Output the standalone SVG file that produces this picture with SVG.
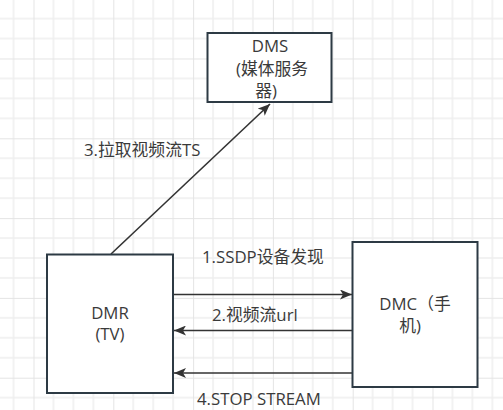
<svg xmlns="http://www.w3.org/2000/svg" width="503" height="410" viewBox="0 0 503 410">
<style>
.box{fill:#fff;stroke:#2d3a44;stroke-width:2}
.edge{stroke:#333;stroke-width:1.6;fill:none}
text{font-family:"Open Sans","Noto Sans CJK SC",sans-serif;font-size:16.8px;fill:#3a3a3a}
.c{text-anchor:middle}
</style>
<defs>
<pattern id="grid" patternUnits="userSpaceOnUse" x="33.5" y="58.5" width="79.8" height="79.8">
<path d="M19.95 0V79.8M39.9 0V79.8M59.85 0V79.8M0 19.95H79.8M0 39.9H79.8M0 59.85H79.8" stroke="#eeeeee" stroke-width="1.5" fill="none"/>
<path d="M0 0V79.8M0 0H79.8" stroke="#e4e4e4" stroke-width="2" fill="none"/>
</pattern>
<marker id="ah" viewBox="0 0 12 10" refX="12" refY="5" markerWidth="12" markerHeight="10" markerUnits="userSpaceOnUse" orient="auto">
<path d="M0 0L12 5L0 10L3 5Z" fill="#333"/>
</marker>
</defs>
<rect width="503" height="410" fill="#fff"/>
<rect width="503" height="410" fill="url(#grid)"/>
<g id="connectors">
<path class="edge" d="M111 254L270 104" marker-end="url(#ah)"/>
<path class="edge" d="M173 294.5H352" marker-end="url(#ah)"/>
<path class="edge" d="M352 330.5H174" marker-end="url(#ah)"/>
<path class="edge" d="M352 373H174" marker-end="url(#ah)"/>
<text x="84" y="156">3.拉取视频流TS</text>
<text x="202" y="263">1.SSDP设备发现</text>
<text x="212" y="321">2.视频流url</text>
<text x="197" y="405">4.STOP STREAM</text>
</g>
<g id="dms">
<rect class="box" x="207.5" y="33" width="124" height="69"/>
<text class="c" x="270" y="52">DMS</text>
<text class="c" x="272" y="75">(媒体服务</text>
<text class="c" x="266" y="97">器)</text>
</g>
<g id="dmr">
<rect class="box" x="47" y="254.5" width="126" height="138.5"/>
<text class="c" x="110" y="319">DMR</text>
<text class="c" x="110" y="340">(TV)</text>
</g>
<g id="dmc">
<rect class="box" x="352.5" y="242" width="125" height="145"/>
<text class="c" x="415" y="310">DMC（手</text>
<text class="c" x="410" y="332">机)</text>
</g>
</svg>
